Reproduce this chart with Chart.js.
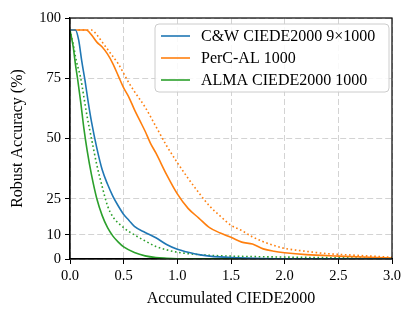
<!DOCTYPE html>
<html>
<head>
<meta charset="utf-8">
<script src="https://cdn.jsdelivr.net/npm/chart.js@4.4.1/dist/chart.umd.min.js"></script>
<style>
  html, body { margin: 0; padding: 0; background: #fff; }
  #wrap { width: 415px; height: 317px; }
</style>
</head>
<body>
<div id="wrap"><canvas id="chart" width="415" height="317"></canvas></div>
<script>
// values
const yTicks = [0, 10, 25, 50, 75, 100];

const cwX = [0, 0.05, 0.08, 0.11, 0.14, 0.17, 0.2, 0.25, 0.3, 0.35, 0.4, 0.45, 0.5, 0.55, 0.6, 0.7, 0.8, 0.9, 1.0, 1.1, 1.2, 1.3, 1.5, 1.8, 2.2, 3.0];
const cwY = [95, 95, 91, 82, 74, 65, 57, 46, 37, 31, 26, 22, 18.5, 16, 13.5, 11, 8.8, 6, 4, 2.8, 1.8, 1.2, 0.6, 0.2, 0.1, 0];

const percX = [0, 0.15, 0.2, 0.25, 0.3, 0.35, 0.4, 0.45, 0.5, 0.55, 0.6, 0.65, 0.7, 0.75, 0.8, 0.9, 1.0, 1.1, 1.2, 1.3, 1.4, 1.5, 1.6, 1.7, 1.8, 1.9, 2.0, 2.2, 2.5, 2.8, 3.0];
const percY = [95, 95, 93, 90, 88, 85, 81, 76, 71, 67, 62, 57.5, 53, 48, 44, 35, 27, 21, 17, 13, 10.8, 9, 7, 6.2, 4.2, 3.2, 2.6, 1.8, 1.2, 0.7, 0.4];

const percDotX = [0, 0.2, 0.25, 0.3, 0.35, 0.4, 0.45, 0.5, 0.55, 0.6, 0.7, 0.8, 0.9, 1.0, 1.1, 1.2, 1.3, 1.4, 1.5, 1.6, 1.7, 1.8, 1.9, 2.0, 2.2, 2.4, 2.6, 2.8, 3.0];
const percDotY = [95, 95, 93, 90, 87, 84, 81, 77, 73, 69.5, 63, 55, 47, 40, 33.5, 27.5, 22, 17.8, 14, 11.8, 9.2, 7.2, 5.6, 4.4, 3.2, 2.2, 1.7, 1.2, 0.7];

const almaX = [0, 0.03, 0.05, 0.07, 0.1, 0.13, 0.16, 0.2, 0.25, 0.3, 0.35, 0.4, 0.45, 0.5, 0.6, 0.7, 0.8, 0.9, 1.0, 1.2, 3.0];
const almaY = [95, 88, 81, 75, 65, 54, 45, 35, 25, 18, 13, 9.5, 7, 5, 2.7, 1.3, 0.6, 0.3, 0.1, 0, 0];

const almaDotX = [0, 0.03, 0.06, 0.1, 0.13, 0.16, 0.2, 0.25, 0.3, 0.35, 0.4, 0.5, 0.6, 0.7, 0.8, 0.9, 1.0, 1.2, 1.5, 2.0, 2.5, 3.0];
const almaDotY = [95, 89, 82, 75, 67, 59, 50, 39, 30, 22, 17.5, 13, 10, 7.5, 5.2, 3.8, 2.8, 1.8, 1.2, 0.8, 0.5, 0.3];

const BLUE = "#1f77b4", ORANGE = "#ff7f0e", GREEN = "#2ca02c";
const FONT = "'Liberation Serif', 'DejaVu Serif', serif";

const pts = (xs, ys) => xs.map((x, i) => ({ x: x, y: ys[i] }));

const line = (label, xs, ys, color, dotted) => ({
  label: label,
  data: pts(xs, ys),
  borderColor: color,
  backgroundColor: color,
  borderWidth: 1.6,
  borderDash: dotted ? [1.6, 2.6] : [],
  pointRadius: 0,
  showLine: true,
  fill: false,
  tension: 0,
  cubicInterpolationMode: "monotone",
  inLegend: !dotted,
});

// matplotlib style box + legend inside the axes
const boxLegend = {
  id: "boxLegend",
  afterDatasetsDraw(chart) {
    const { ctx, chartArea } = chart;
    ctx.save();
    ctx.setLineDash([]);
    ctx.strokeStyle = "#000";
    ctx.lineWidth = 1.2;
    ctx.strokeRect(chartArea.left, chartArea.top, chartArea.right - chartArea.left, chartArea.bottom - chartArea.top);

    const items = chart.data.datasets.filter((d) => d.inLegend);
    const x0 = chartArea.right - 237, y0 = chartArea.top + 6, w = 234, h = 68;
    ctx.beginPath();
    ctx.roundRect(x0, y0, w, h, 4);
    ctx.fillStyle = "rgba(255,255,255,0.85)";
    ctx.fill();
    ctx.strokeStyle = "#cccccc";
    ctx.lineWidth = 1;
    ctx.stroke();

    ctx.font = "16px " + FONT;
    ctx.textBaseline = "middle";
    items.forEach((d, i) => {
      const y = y0 + 12 + i * 22;
      ctx.beginPath();
      ctx.moveTo(x0 + 6, y);
      ctx.lineTo(x0 + 35, y);
      ctx.strokeStyle = d.borderColor;
      ctx.lineWidth = 1.6;
      ctx.stroke();
      ctx.fillStyle = "#000";
      ctx.fillText(d.label, x0 + 46, y + 1);
    });
    ctx.restore();
  },
};

const gridOpts = {
  color: "#d3d3d3",
  lineWidth: 1,
  tickColor: "#000",
  tickLength: 5,
  tickBorderDash: [],
};

new Chart(document.getElementById("chart"), {
  type: "scatter",
  data: {
    datasets: [
      line("C&W CIEDE2000 9×1000", cwX, cwY, BLUE, false),
      line("PerC-AL 1000", percX, percY, ORANGE, false),
      line("ALMA CIEDE2000 1000", almaX, almaY, GREEN, false),
      line("PerC-AL (dotted)", percDotX, percDotY, ORANGE, true),
      line("ALMA (dotted)", almaDotX, almaDotY, GREEN, true),
    ],
  },
  options: {
    responsive: false,
    animation: false,
    layout: { padding: { left: 0, right: 23, top: 18, bottom: 0 } },
    plugins: {
      legend: { display: false },
      tooltip: { enabled: false },
    },
    scales: {
      x: {
        type: "linear",
        min: 0,
        max: 3,
        afterFit: (s) => { s.height = 58; },
        ticks: {
          stepSize: 0.5,
          color: "#000",
          padding: 3,
          maxRotation: 0,
          font: { family: FONT, size: 14.5 },
          callback: (v) => v.toFixed(1),
        },
        grid: gridOpts,
        border: { color: "#000", width: 1.2, dash: [6, 3] },
        title: {
          display: true,
          text: "Accumulated CIEDE2000",
          color: "#000",
          font: { family: FONT, size: 16 },
          padding: { top: 4, bottom: 9 },
        },
      },
      y: {
        min: 0,
        max: 100,
        afterFit: (s) => { s.width = 70; },
        afterBuildTicks: (s) => { s.ticks = yTicks.map((v) => ({ value: v })); },
        ticks: {
          color: "#000",
          padding: 4,
          font: { family: FONT, size: 14.5 },
        },
        grid: gridOpts,
        border: { color: "#000", width: 1.2, dash: [6, 3] },
        title: {
          display: true,
          text: "Robust Accuracy (%)",
          color: "#000",
          font: { family: FONT, size: 16 },
          padding: { top: 8, bottom: 4 },
        },
      },
    },
  },
  plugins: [boxLegend],
});
</script>
</body>
</html>
